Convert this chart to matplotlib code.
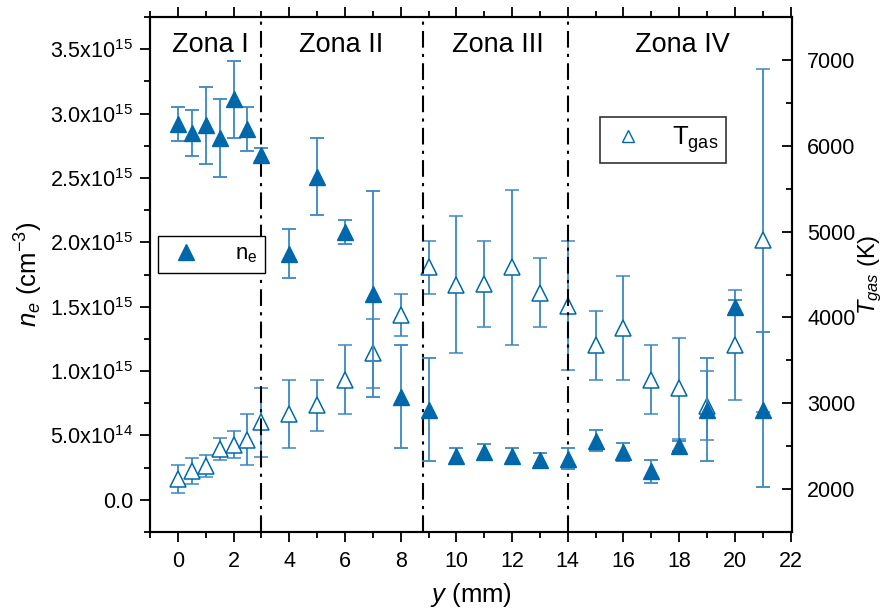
import math
import matplotlib
matplotlib.use("Agg")
import matplotlib.pyplot as plt
from matplotlib.ticker import MultipleLocator, FuncFormatter
from matplotlib.lines import Line2D

plt.rcParams['font.family'] = ['Liberation Sans', 'DejaVu Sans']
plt.rcParams['mathtext.fontset'] = 'custom'
plt.rcParams['mathtext.rm'] = 'Liberation Sans'
plt.rcParams['mathtext.it'] = 'Liberation Sans:italic'

# ---- data ----
y_mm = [0, 0.5, 1, 1.5, 2, 2.5, 3, 4, 5, 6, 7, 8, 9, 10, 11, 12, 13, 14, 15, 16, 17, 18, 19, 20, 21]
ne = [2.92, 2.85, 2.91, 2.81, 3.11, 2.88, 2.68, 1.91, 2.51, 2.08, 1.60, 0.80, 0.70, 0.34, 0.37, 0.34,
      0.31, 0.32, 0.46, 0.37, 0.22, 0.42, 0.70, 1.50, 0.70]  # x1e15 cm^-3
ne_err = [0.13, 0.18, 0.30, 0.30, 0.30, 0.17, 0.05, 0.19, 0.30, 0.09, 0.80, 0.40, 0.40, 0.06, 0.06, 0.06,
          0.05, 0.08, 0.08, 0.07, 0.09, 0.04, 0.40, 0.05, 0.60]
tgas = [2120, 2210, 2270, 2465, 2518, 2576, 2776, 2876, 2976, 3276, 3582, 4029, 4582, 4382, 4388, 4582,
        4288, 4135, 3676, 3882, 3276, 3176, 2970, 3676, 4900]  # K
tgas_err = [165, 150, 125, 130, 160, 300, 405, 400, 300, 400, 400, 247, 306, 800, 500, 906,
            400, 753, 400, 606, 400, 590, 400, 640, 2000]
zone_bounds = [3, 8.8, 14]
zone_labels = ["Zona I", "Zona II", "Zona III", "Zona IV"]
zone_label_x = [1.15, 5.85, 11.5, 18.1]

blue = '#0068aa'
ebar = '#3a88c4'

fig = plt.figure(figsize=(8.89, 6.12), dpi=100)
ax = fig.add_axes([150/889, 1-532/612, (792-150)/889, (532-17)/612])
ax2 = ax.twinx()
ax.set_zorder(ax2.get_zorder() + 1)
ax.patch.set_visible(False)

scale = 1e15
ax.errorbar(y_mm, [v*scale for v in ne], yerr=[e*scale for e in ne_err], fmt='^', color=blue,
            ms=11, mec=blue, mfc=blue, ecolor=ebar, elinewidth=1.3, capsize=5, capthick=1.3, zorder=5)
ax2.errorbar(y_mm, tgas, yerr=tgas_err, fmt='^', color=blue, ms=11, mec=blue, mfc='white', mew=1.1,
             ecolor=ebar, elinewidth=1.3, capsize=5, capthick=1.3, zorder=3)

for xb in zone_bounds:
    ax.axvline(xb, color='black', lw=1.5, linestyle=(0, (8, 3, 1.5, 3)), zorder=2)
for lx, lab in zip(zone_label_x, zone_labels):
    ax.text(lx, 3.53e15, lab, fontsize=19.5, ha='center', va='center', zorder=6)

ax.set_xlim(-1, 22.05)
ax.set_ylim(-0.25e15, 3.75e15)
ax2.set_ylim(1500, 7500)

ax.xaxis.set_major_locator(MultipleLocator(2))
ax.xaxis.set_minor_locator(MultipleLocator(1))
ax.yaxis.set_major_locator(MultipleLocator(0.5e15))
ax.yaxis.set_minor_locator(MultipleLocator(0.25e15))
ax2.yaxis.set_major_locator(MultipleLocator(1000))
ax2.yaxis.set_minor_locator(MultipleLocator(500))


def sci(v, pos):
    if abs(v) < 1:
        return "0.0"
    e = int(math.floor(math.log10(abs(v)) + 1e-9))
    m = v / 10**e
    return f"{m:.1f}x10$^{{{e}}}$"


ax.yaxis.set_major_formatter(FuncFormatter(sci))

TL = 15.5
ax.tick_params(axis='x', which='both', direction='out', top=True, labelsize=TL, width=1.3, pad=7)
ax.tick_params(axis='x', which='major', length=7)
ax.tick_params(axis='x', which='minor', length=4)
ax.tick_params(axis='y', which='both', direction='out', right=False, labelsize=TL, width=1.3, pad=5)
ax.tick_params(axis='y', which='major', length=7)
ax.tick_params(axis='y', which='minor', length=4)
ax2.tick_params(axis='y', which='both', direction='in', labelsize=TL, width=1.3, pad=11)
ax2.tick_params(axis='y', which='major', length=7)
ax2.tick_params(axis='y', which='minor', length=4)

for a in (ax, ax2):
    for s in a.spines.values():
        s.set_linewidth(1.5)

ax.set_xlabel("$y$ (mm)", fontsize=18.5, labelpad=6)
ax.set_ylabel("$n_e$ (cm$^{-3}$)", fontsize=18.5, labelpad=4)
ax2.set_ylabel("$T_{gas}$ (K)", fontsize=17, labelpad=1)

h1 = Line2D([], [], marker='^', ls='none', color=blue, ms=11)
h2 = Line2D([], [], marker='^', ls='none', color=blue, mfc='white', ms=9, mew=1.0)
leg1 = fig.legend([h1], ["n$_\\mathrm{e}$"], loc='upper left', bbox_to_anchor=(158/889, 1-236/612),
                  fontsize=16, fancybox=False, edgecolor='black', framealpha=1, handletextpad=1.3,
                  handlelength=1.8, borderpad=0.35, borderaxespad=0)
leg1.get_frame().set_linewidth(1.0)
leg2 = fig.legend([h2], ["T$_\\mathrm{gas}$"], loc='upper left', bbox_to_anchor=(600/889, 1-117/612),
                  fontsize=18.5, fancybox=False, edgecolor='#333333', framealpha=1, handletextpad=0.9,
                  handlelength=1.6, borderpad=0.3, borderaxespad=0)
leg2.get_frame().set_linewidth(1.2)

fig.savefig("out.png", dpi=100)
